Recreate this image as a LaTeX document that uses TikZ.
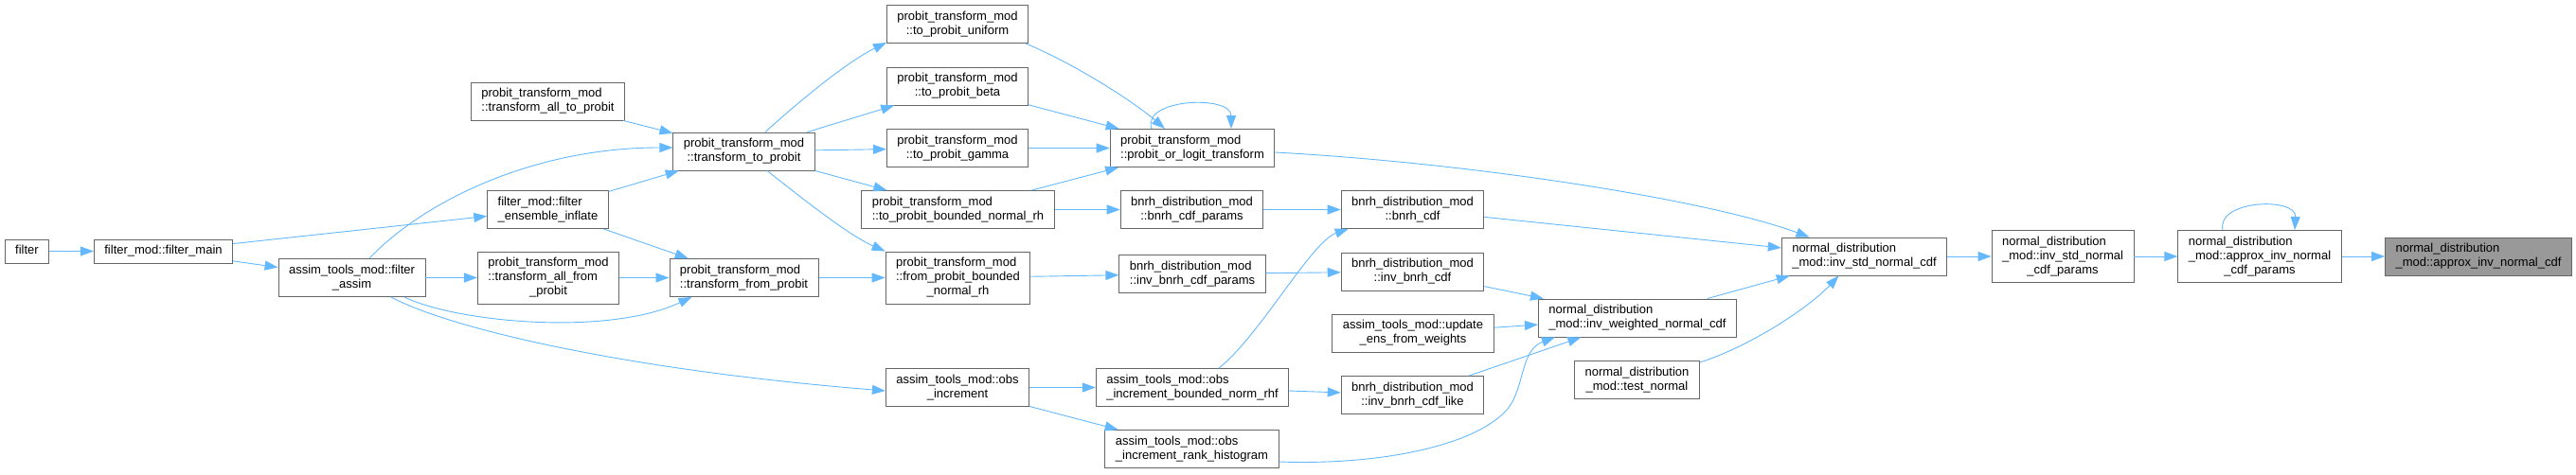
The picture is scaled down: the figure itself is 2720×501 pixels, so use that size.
\documentclass[tikz,border=0pt]{standalone}
\usepackage{fontspec}
\setsansfont{Liberation Sans}
\usetikzlibrary{arrows.meta}
\definecolor{edgeblue}{HTML}{63B8FF}
\definecolor{boxline}{HTML}{666666}
\definecolor{hilite}{HTML}{999999}
% labels: all lines left, last line centred
\newcommand{\fa}[1]{\begin{tabular}{@{}c@{}}#1\end{tabular}}
\newcommand{\fb}[2]{\begin{tabular}{@{}c@{}}\multicolumn{1}{@{}l@{}}{#1}\\#2\end{tabular}}
\newcommand{\fc}[3]{\begin{tabular}{@{}c@{}}\multicolumn{1}{@{}l@{}}{#1}\\\multicolumn{1}{@{}l@{}}{#2}\\#3\end{tabular}}
\tikzset{box/.style={draw=boxline,line width=0.9pt,fill=white,inner xsep=11pt,inner ysep=5pt,font=\sffamily\fontsize{13}{15}\selectfont},arrow/.style={draw=edgeblue,line width=0.9pt,-{Triangle[length=14pt,width=10pt]}}}
\begin{document}
\begin{tikzpicture}[x=1pt,y=-1pt]
\useasboundingbox (0,0) rectangle (2720,501);
\node[box] (filter) at (28.5,265.5) {\fa{filter}};
\node[box] (fmain) at (172.5,265.5) {\fa{filter\_mod::filter\_main}};
\node[box] (fassim) at (371.5,293.5) {\fb{assim\_tools\_mod::filter}{\_assim}};
\node[box] (alltoprob) at (578.5,107) {\fb{probit\_transform\_mod}{::transform\_all\_to\_probit}};
\node[box] (inflate) at (578.5,221.5) {\fb{filter\_mod::filter}{\_ensemble\_inflate}};
\node[box] (allfromprob) at (579,293.5) {\fc{probit\_transform\_mod}{::transform\_all\_from}{\_probit}};
\node[box] (toprob) at (785.5,160) {\fb{probit\_transform\_mod}{::transform\_to\_probit}};
\node[box] (fromprob) at (785.5,293.5) {\fb{probit\_transform\_mod}{::transform\_from\_probit}};
\node[box] (uniform) at (1011,25.5) {\fb{probit\_transform\_mod}{::to\_probit\_uniform}};
\node[box] (beta) at (1011,91) {\fb{probit\_transform\_mod}{::to\_probit\_beta}};
\node[box] (gamma) at (1011,156.5) {\fb{probit\_transform\_mod}{::to\_probit\_gamma}};
\node[box] (tobnr) at (1011.5,221.5) {\fb{probit\_transform\_mod}{::to\_probit\_bounded\_normal\_rh}};
\node[box] (frombnr) at (1011.5,293.5) {\fc{probit\_transform\_mod}{::from\_probit\_bounded}{\_normal\_rh}};
\node[box] (obsinc) at (1011,409.5) {\fb{assim\_tools\_mod::obs}{\_increment}};
\node[box] (polt) at (1259,156.5) {\fb{probit\_transform\_mod}{::probit\_or\_logit\_transform}};
\node[box] (cdfpar) at (1258.5,221.5) {\fb{bnrh\_distribution\_mod}{::bnrh\_cdf\_params}};
\node[box] (invcdfpar) at (1259,289.5) {\fb{bnrh\_distribution\_mod}{::inv\_bnrh\_cdf\_params}};
\node[box] (obsbnr) at (1259,409.5) {\fb{assim\_tools\_mod::obs}{\_increment\_bounded\_norm\_rhf}};
\node[box] (obsrank) at (1258.5,474.5) {\fb{assim\_tools\_mod::obs}{\_increment\_rank\_histogram}};
\node[box] (bcdf) at (1491.5,221.5) {\fb{bnrh\_distribution\_mod}{::bnrh\_cdf}};
\node[box] (invbcdf) at (1491.5,287) {\fb{bnrh\_distribution\_mod}{::inv\_bnrh\_cdf}};
\node[box] (update) at (1492,352) {\fb{assim\_tools\_mod::update}{\_ens\_from\_weights}};
\node[box] (invlike) at (1491.5,417.5) {\fb{bnrh\_distribution\_mod}{::inv\_bnrh\_cdf\_like}};
\node[box] (invw) at (1729,336) {\fb{normal\_distribution}{\_mod::inv\_weighted\_normal\_cdf}};
\node[box] (test) at (1728.5,401.5) {\fb{normal\_distribution}{\_mod::test\_normal}};
\node[box] (invstd) at (1968.5,271) {\fb{normal\_distribution}{\_mod::inv\_std\_normal\_cdf}};
\node[box] (invstdpar) at (2178,271) {\fc{normal\_distribution}{\_mod::inv\_std\_normal}{\_cdf\_params}};
\node[box] (approxpar) at (2386,271) {\fc{normal\_distribution}{\_mod::approx\_inv\_normal}{\_cdf\_params}};
\node[box,fill=hilite] (approx) at (2617,271) {\fb{normal\_distribution}{\_mod::approx\_inv\_normal\_cdf}};
% callers of filter_assim and friends
\draw[arrow] (filter) -- (fmain);
\draw[arrow] (fmain) -- (fassim);
\draw[arrow] (fmain) -- (inflate);
\draw[arrow] ([xshift=18.5pt]fassim.north) .. controls (445,215) and (560,156) .. ([yshift=4pt]toprob.west);
\draw[arrow] (fassim) -- (allfromprob);
\draw[arrow] ([xshift=55.5pt]fassim.south) .. controls (480,340) and (640,356) .. ([xshift=-55pt]fromprob.south);
\draw[arrow] ([xshift=41.5pt]fassim.south) .. controls (470,345) and (650,390) .. ([yshift=-3.5pt]obsinc.west);
\draw[arrow] (alltoprob) -- (toprob);
\draw[arrow] (inflate) -- (toprob);
\draw[arrow] (inflate) -- (fromprob);
\draw[arrow] (allfromprob) -- (fromprob);
% probit transforms
\draw[arrow] ([xshift=22.5pt]toprob.north) .. controls (845,106) and (895,65) .. ([yshift=1pt]uniform.south west);
\draw[arrow] (toprob) -- (beta);
\draw[arrow] (toprob) -- (gamma);
\draw[arrow] (toprob) -- (tobnr);
\draw[arrow] ([xshift=24.5pt]toprob.south) .. controls (845,208) and (895,248) .. (frombnr.north west);
\draw[arrow] (fromprob) -- (frombnr);
\draw[arrow] ([xshift=-3pt]uniform.south east) .. controls (1140,70) and (1200,110) .. ([xshift=-29pt]polt.north);
\draw[arrow] (beta) -- (polt);
\draw[arrow] (gamma) -- (polt);
\draw[arrow] (tobnr) -- (polt);
\draw[arrow] ([xshift=-43pt]polt.north) .. controls (1205,104) and (1300,100) .. ([xshift=41pt]polt.north);
\draw[arrow] ([yshift=-4.5pt]polt.east) .. controls (1550,172) and (1800,210) .. ([xshift=-58pt]invstd.north);
\draw[arrow] (tobnr) -- (cdfpar);
\draw[arrow] (cdfpar) -- (bcdf);
\draw[arrow] (frombnr) -- (invcdfpar);
\draw[arrow] (invcdfpar) -- (invbcdf);
% obs increments
\draw[arrow] (obsinc) -- (obsbnr);
\draw[arrow] (obsinc) -- (obsrank);
\draw[arrow] ([xshift=28pt]obsbnr.north) .. controls (1330,355) and (1385,255) .. ([xshift=8pt]bcdf.south west);
\draw[arrow] (obsbnr) -- (invlike);
\draw[arrow] ([yshift=-13.5pt]obsrank.east) .. controls (1460,492) and (1560,470) .. (1592,432) .. controls (1610,410) and (1605,370) .. ([xshift=18pt]invw.south west);
% normal distribution
\draw[arrow] (invbcdf) -- (invw);
\draw[arrow] (update) -- (invw);
\draw[arrow] (invlike) -- (invw);
\draw[arrow] (bcdf) -- (invstd);
\draw[arrow] (invw) -- ([xshift=9pt]invstd.south west);
\draw[arrow] ([yshift=-2pt]test.north east) .. controls (1850,365) and (1910,325) .. ([xshift=-27pt]invstd.south);
\draw[arrow] (invstd) -- (invstdpar);
\draw[arrow] (invstdpar) -- (approxpar);
\draw[arrow] ([xshift=-39pt]approxpar.north) .. controls (2340,211) and (2425,208) .. ([xshift=37pt]approxpar.north);
\draw[arrow] (approxpar) -- (approx);
\end{tikzpicture}
\end{document}
